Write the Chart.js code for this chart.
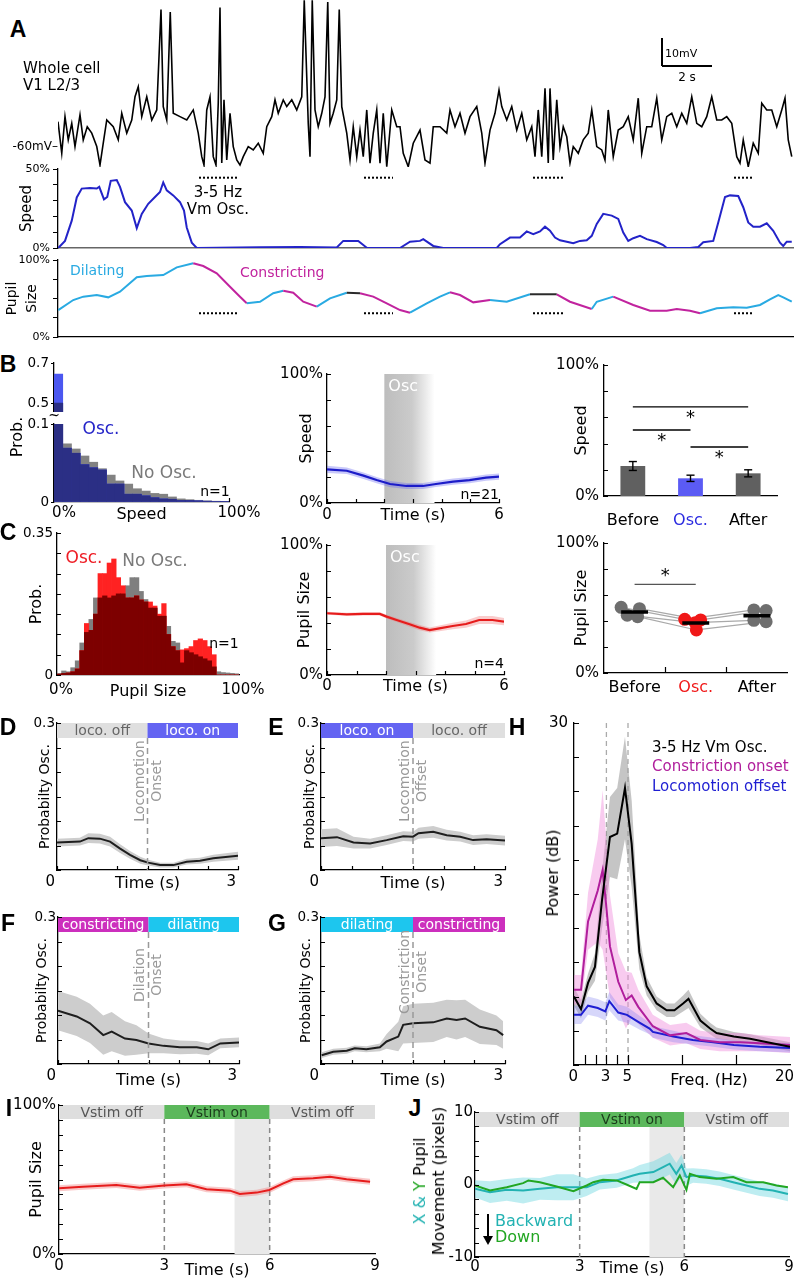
<!DOCTYPE html>
<html>
<head>
<meta charset="utf-8">
<title>Vm oscillations, locomotion and pupil</title>
<script src="https://cdn.jsdelivr.net/npm/chart.js@4.4.0/dist/chart.umd.min.js"></script>
<style>
  html, body { margin: 0; padding: 0; background: #fff; }
  #fig { position: relative; width: 794px; height: 1280px; overflow: hidden; font-family: 'DejaVu Sans', sans-serif; color: #000; }
  #fig canvas { position: absolute; }
  .t { position: absolute; white-space: nowrap; line-height: 1; text-align: center; }
</style>
</head>
<body>
<div id="fig"></div>
<script>
// ============================================================
//  data
// ============================================================

// A: whole-cell Vm (s, mV)
const vmT = [0.00,0.15,0.28,0.41,0.55,0.68,0.88,1.01,1.17,1.35,1.55,1.68,1.81,1.95,2.21,2.41,2.55,2.75,2.95,3.08,
  3.21,3.35,3.55,3.75,3.95,4.12,4.21,4.35,4.49,4.61,4.88,5.15,5.41,5.61,5.75,5.84,5.95,6.08,6.21,6.32,
  6.41,6.48,6.55,6.64,6.75,6.88,7.01,7.15,7.28,7.41,7.61,7.81,8.01,8.21,8.35,8.55,8.68,8.81,9.01,9.15,
  9.35,9.55,9.75,9.85,10.01,10.08,10.17,10.28,10.41,10.55,10.68,10.79,10.88,11.01,11.15,11.25,11.35,11.55,11.68,11.81,
  11.95,12.08,12.21,12.35,12.48,12.61,12.75,12.88,13.01,13.15,13.35,13.55,13.68,13.81,14.01,14.21,14.48,14.68,14.88,15.01,
  15.28,15.55,15.68,15.88,16.08,16.28,16.48,16.75,16.95,17.08,17.28,17.48,17.64,17.75,17.95,18.15,18.35,18.55,18.75,18.95,
  19.08,19.21,19.35,19.48,19.61,19.68,19.81,19.95,20.08,20.21,20.35,20.48,20.61,20.81,21.01,21.21,21.35,21.55,21.75,21.88,
  22.01,22.21,22.41,22.61,22.81,23.01,23.21,23.35,23.55,23.75,23.95,24.15,24.35,24.55,24.75,24.95,25.15,25.35,25.55,25.75,
  25.95,26.15,26.35,26.55,26.75,26.95,27.15,27.28,27.41,27.61,27.81,28.01,28.15,28.35,28.55,28.75,28.95,29.08,29.21,29.35];
const vmV = [-52.4,-63.7,-50.6,-58.9,-53.0,-61.3,-50.0,-58.9,-54.2,-56.5,-61.3,-67.9,-60.1,-51.8,-54.2,-58.9,-49.4,-56.5,-51.8,-43.5,
  -39.9,-50.6,-43.5,-51.8,-48.2,-12.3,-47.0,-51.8,-13.2,-49.4,-50.6,-51.8,-48.2,-56.5,-64.9,-67.9,-48.2,-43.5,-64.9,-67.9,
  -45.8,-11.6,-67.2,-44.6,-66.1,-49.4,-61.3,-66.1,-67.9,-64.9,-61.3,-62.5,-60.1,-63.7,-54.2,-50.6,-44.6,-49.4,-44.6,-47.0,
  -44.6,-48.2,-43.5,-9.0,-53.0,-64.9,-9.0,-48.2,-54.2,-49.4,-43.5,-9.6,-53.0,-49.4,-44.6,-12.3,-47.0,-56.5,-66.1,-54.2,
  -64.9,-55.4,-64.9,-48.2,-67.2,-56.5,-48.2,-67.2,-49.4,-68.5,-48.2,-54.2,-54.2,-63.7,-68.5,-60.1,-55.4,-66.1,-67.2,-54.2,
  -54.2,-56.5,-48.2,-54.2,-49.4,-56.5,-50.6,-47.0,-56.5,-67.2,-55.4,-49.4,-41.1,-47.0,-51.8,-47.0,-55.4,-49.4,-58.9,-54.2,
  -64.9,-48.2,-64.9,-40.5,-67.2,-40.5,-66.1,-44.6,-61.3,-54.2,-57.8,-67.2,-61.3,-63.7,-58.9,-56.5,-48.2,-61.3,-62.5,-66.1,
  -48.2,-64.9,-55.4,-54.2,-50.6,-58.9,-44.0,-63.7,-54.2,-54.2,-44.0,-58.9,-50.6,-49.4,-54.2,-49.4,-53.0,-43.5,-53.0,-54.2,
  -50.6,-43.5,-51.8,-51.8,-50.6,-53.0,-64.9,-67.2,-58.9,-68.5,-60.1,-63.7,-45.8,-48.2,-48.2,-54.2,-48.2,-44.0,-58.9,-64.9];

// A: running speed (%)
const runT = [0.01,0.28,0.55,0.75,0.95,1.28,1.55,1.65,1.84,1.97,2.11,2.35,2.48,2.68,2.95,3.15,3.35,3.61,3.88,4.08,
  4.21,4.35,4.61,4.88,5.04,5.15,5.35,5.55,8.08,9.68,11.15,11.41,12.01,12.35,13.68,14.08,14.48,14.61,15.01,15.41,
  17.55,17.68,18.08,18.48,18.75,19.01,19.28,19.48,19.68,19.88,20.08,20.35,20.61,20.88,21.15,21.35,21.55,21.81,22.15,22.41,
  22.61,22.81,23.01,23.28,23.55,23.95,24.21,24.35,25.28,25.61,25.81,26.21,26.41,26.68,26.88,27.21,27.41,27.61,27.81,28.08,
  28.35,28.61,28.88,29.01,29.15,29.35];
const runV = [0,4.5,17.3,32,37.6,38,37.6,38.7,30.8,32.3,42.5,43,38.7,29,23.7,12.6,21.6,28,32.3,35.4,
  41.5,36.5,33.3,29,23.7,13,3.4,0,0.4,0.6,0.3,4.5,4.5,0.2,0,4,4.5,5.6,1.3,0,
  0,2.4,6.6,6.6,10.5,8.8,10.5,13.5,10.9,6.6,4.9,4,3,4.5,4.9,7.7,15.2,21.6,20.5,18.4,
  9.8,4.5,6.2,7.7,5.6,3.8,1.9,0,0,0.6,3.6,4.5,16.2,32.3,33.3,32.9,25.8,16.2,13.5,13.5,
  15.6,10.9,3.4,1.3,4,4];

// A: pupil size (%) and its dilating / constricting phases
const pupT = [0.01,0.61,1.01,1.55,2.01,2.48,3.15,3.55,4.21,4.75,5.41,5.81,6.35,6.88,7.28,7.55,8.08,8.61,9.01,9.41,
  9.81,10.35,10.88,11.55,12.08,12.61,13.15,13.68,14.08,14.75,15.28,15.68,16.08,16.61,17.28,17.95,18.88,19.95,20.48,21.35,
  21.55,22.21,23.01,23.68,24.35,24.75,25.28,25.68,26.35,27.01,27.55,28.08,28.48,28.81,29.01,29.35];
const pupV = [35,48,52.4,54.5,51.5,58.9,77.5,79.2,80.5,90.5,95.7,92.2,82.7,65.3,52.3,43.8,45.8,56.8,60.1,57.5,
  45.8,39.4,50.2,57.5,56.8,52.4,43.8,35,31.6,43.8,52.4,58,54.5,45,48,45.8,55.5,55.5,45.8,36.4,
  45.8,52.4,41.6,34.2,34.2,36.4,34.2,30.8,37.3,38.5,38.1,41.6,49,54.5,51.5,45.8];
const pupSwitchT = [5.41,7.55,9.01,10.35,11.55,12.08,14.08,15.68,17.28,18.88,19.95,21.35,22.21,25.68];
const pupPhase   = ['dil','con','dil','con','dil','flat','con','dil','con','dil','flat','con','dil','con','dil'];
const oscWinStart = [5.64, 12.24, 19.0, 27.04];
const oscWinEnd   = [7.24, 13.4, 20.2, 27.84];

// B: speed histograms (bin centres, %)
const speedBins = [2.5,7.5,12.5,17.5,22.5,27.5,32.5,37.5,42.5,47.5,52.5,57.5,62.5,67.5,72.5,77.5,82.5,87.5,92.5,97.5];
const speedNoOsc = [0.50,0.0746,0.068,0.059,0.051,0.0427,0.0345,0.027,0.023,0.017,0.014,0.011,0.010,0.0065,0.004,0.003,0.0022,0.0015,0.001,0.0008];
const speedOsc   = [0.645,0.069,0.0625,0.048,0.044,0.041,0.023,0.023,0.010,0.010,0.008,0.0056,0.004,0.0035,0.002,0.002,0.0015,0.001,0.0007,0.0005];

// B: speed around oscillation onset (n=21)
const bT   = [0,0.69,1.27,1.73,2.2,2.77,3.35,3.8,4.4,4.97,5.55,6];
const bV   = [26.1,25.0,21.2,17.8,14.7,13.2,13.2,14.7,16.5,17.8,19.6,20.4];
const bSem = [2.8,2.6,2.5,2.4,2.4,2.3,2.3,2.3,2.4,2.4,2.4,2.4];

// B: speed before / during / after
const condLabels = ['Before','Osc.','After'];
const speedBar = [22.9,13.5,17.3];
const speedErr = [3.4,2.4,2.7];
const sigFrom = [0,0,1];
const sigTo   = [2,1,2];
const sigY    = [68,50.4,37.4];

// C: pupil histograms
const pupBins = [1.25,3.75,6.25,8.75,11.25,13.75,16.25,18.75,21.25,23.75,26.25,28.75,31.25,33.75,36.25,38.75,41.25,43.75,46.25,48.75,
  51.25,53.75,56.25,58.75,61.25,63.75,66.25,68.75,71.25,73.75,76.25,78.75,81.25,83.75,86.25,88.75,91.25,93.75,96.25,98.75];
const pupNoOsc = [0.004,0.010,0.008,0.018,0.035,0.079,0.105,0.137,0.190,0.190,0.195,0.190,0.195,0.200,0.200,0.220,0.240,0.240,0.206,0.186,
  0.165,0.165,0.145,0.145,0.120,0.083,0.079,0.030,0.060,0.055,0.050,0.045,0.040,0.035,0.020,0.008,0.006,0.005,0.004,0.003];
const pupOsc   = [0.002,0.004,0.005,0.008,0.015,0.060,0.127,0.110,0.150,0.250,0.250,0.276,0.286,0.240,0.220,0.190,0.190,0.195,0.185,0.180,
  0.180,0.170,0.150,0.176,0.100,0.070,0.060,0.062,0.065,0.070,0.085,0.089,0.085,0.070,0.050,0,0,0,0,0];

// C: pupil around oscillation onset (n=4)
const cT   = [0,0.67,1.23,1.79,2.02,2.36,2.8,3.14,3.48,3.81,4.26,4.71,5.16,5.61,6];
const cV   = [47.5,46.7,47.0,47.0,44.9,42.3,39.0,36.4,34.6,35.9,37.7,39.2,42.3,42.3,41.0];
const cSem = [1.2,1.2,1.2,1.3,1.5,1.6,1.8,2.0,2.0,2.2,2.5,2.8,3.0,3.0,2.8];

// C: pupil per mouse, before / osc / after
const pupBefore = [50.5,49.5,44.5,43.3];
const pupDuring = [41.3,40.8,38.7,33.1];
const pupAfter  = [48.5,48.0,40.5,39.5];
const jitBefore = [-0.22,0.08,-0.12,0.05];
const jitDuring = [-0.18,0.08,-0.01,0.01];
const jitAfter  = [-0.05,0.15,-0.05,0.15];
const pupSigY = 68.2;

// D-G: probability of oscillation around state transitions
const probSplit = 1.5;
const dT = [0,0.38,0.52,0.71,0.88,1.04,1.21,1.38,1.51,1.71,1.93,2.15,2.37,2.59,3.0];
const dV = [0.056,0.058,0.065,0.064,0.058,0.044,0.031,0.020,0.015,0.010,0.010,0.017,0.019,0.024,0.029];
const dSem = [0.008,0.008,0.010,0.010,0.010,0.009,0.008,0.007,0.006,0.005,0.005,0.006,0.006,0.007,0.008];
const eT = [0,0.26,0.53,0.80,1.07,1.34,1.50,1.59,1.83,2.05,2.27,2.48,2.70,3.0];
const eV = [0.065,0.067,0.056,0.054,0.061,0.069,0.068,0.075,0.078,0.071,0.068,0.061,0.063,0.060];
const eSem = [0.018,0.018,0.012,0.010,0.010,0.010,0.010,0.011,0.012,0.011,0.010,0.010,0.010,0.010];
const fT = [0,0.31,0.53,0.75,0.89,1.11,1.30,1.50,1.75,2.02,2.30,2.49,2.69,3.0];
const fV = [0.109,0.097,0.083,0.059,0.066,0.052,0.049,0.042,0.037,0.034,0.034,0.030,0.042,0.044];
const fSem = [0.040,0.040,0.040,0.040,0.040,0.035,0.030,0.020,0.015,0.014,0.013,0.012,0.010,0.010];
const gT = [0.01,0.20,0.42,0.55,0.74,0.96,1.07,1.26,1.34,1.50,1.83,2.05,2.21,2.35,2.59,2.86,2.97];
const gV = [0.018,0.025,0.027,0.032,0.030,0.034,0.046,0.056,0.080,0.083,0.085,0.093,0.090,0.093,0.076,0.069,0.059];
const gSem = [0.006,0.006,0.006,0.006,0.006,0.008,0.015,0.030,0.038,0.040,0.040,0.038,0.040,0.038,0.035,0.030,0.028];
const dPhases = ['loco. off','loco. on'];
const ePhases = ['loco. on','loco. off'];
const fPhases = ['constricting','dilating'];
const gPhases = ['dilating','constricting'];

// H: power spectra (Hz, dB)
const oscF = [0,0.65,1.3,1.94,2.6,3.33,4.0,4.72,5.34,6.05,6.73,7.65,8.58,9.3,10.1,10.6,11.7,12.6,13.2,14.8,16.3,17.9,20];
const oscDb = [6.0,4.9,7.2,8.6,14.5,20.0,20.3,24.3,19.4,9.9,6.9,5.4,4.8,4.8,5.4,5.8,3.9,3.2,2.8,2.5,2.3,2.0,1.6];
const oscSem = [0.8,0.8,0.8,1.2,2.5,3.5,4.0,4.5,3.8,1.5,0.8,0.6,0.6,0.6,0.7,0.8,0.6,0.5,0.5,0.4,0.4,0.4,0.4];
const conF = [0,0.65,1.3,2.2,2.65,2.96,3.33,4.1,4.8,5.34,5.95,7.3,8.9,10.4,11.7,13.5,15.4,17.2,20];
const conDb = [6.6,6.6,12.6,15.3,17.1,14.2,10.4,7.3,5.7,6.1,5.1,3.4,2.6,2.8,2.2,2.0,2.0,1.9,1.75];
const conSem = [1.3,1.3,2.5,4.5,7.0,6.0,4.5,2.5,2.5,2.0,1.5,1.0,0.9,0.9,0.8,0.8,0.8,0.7,0.7];
const locF = [0,0.65,1.3,2.2,2.9,3.27,4.1,4.9,6.1,7.0,7.3,9.2,11,12.9,14.8,17.2,20];
const locDb = [4.4,4.4,5.2,5.0,4.7,5.6,4.6,4.4,3.7,3.2,2.9,2.5,2.2,2.0,1.75,1.6,1.5];
const locSem = [0.8,0.8,0.8,0.8,0.8,0.8,0.7,0.7,0.6,0.5,0.5,0.5,0.4,0.4,0.4,0.4,0.4];
const bandFreqs = [3, 5];

// I, J: visual stimulation
const vstimT = [0, 3, 6, 9];
const vstimText = ['Vstim off','Vstim on','Vstim off'];
const iT = [0,0.68,1.63,2.30,3.0,3.63,4.2,4.87,5.15,5.63,5.99,6.39,6.67,7.24,7.72,8.19,8.86];
const iV = [44.1,45.2,46.3,44.5,45.9,46.8,43.4,42.5,40.3,41.2,43.0,47.4,50.1,50.8,51.9,50.1,48.5];
const iSem = [2,2,2,2,2,2,2,2,2,2,2,2,2,2,2,2,2];
const jxT = [0,0.43,0.91,1.38,1.86,2.34,2.82,3.2,3.58,4.06,4.53,4.72,5.11,5.39,5.58,5.77,5.92,6.06,6.25,6.63,7.01,7.4,7.78,8.16,8.54,8.97];
const jxV = [-0.6,-1.06,-0.74,-0.83,-0.6,-0.37,-0.37,-0.37,0.32,0.56,1.25,1.48,1.71,2.41,2.87,1.48,2.64,1.02,1.25,1.11,0.79,0.32,-0.14,-0.6,-0.83,-1.3];
const jxSem = [1.2,1.5,1.5,1.8,1.5,1.8,1.8,1.2,1.0,1.0,1.0,1.2,1.5,1.5,1.5,1.5,1.5,1.2,1.0,1.0,1.0,1.0,1.0,1.0,1.0,1.0];
const jyT = [0,0.43,0.91,1.38,1.53,1.86,2.34,2.82,3.2,3.39,3.67,4.06,4.34,4.63,4.72,5.11,5.39,5.68,5.87,6.06,6.16,6.44,6.92,7.4,7.78,8.26,8.64,8.97];
const jyV = [-0.14,-0.83,-0.37,0.19,0.56,0.32,-0.28,-0.93,-0.14,0.32,0.65,0.56,0,-0.6,0.32,0.32,0.93,-0.37,1.25,-0.74,1.48,1.02,0.79,1.02,0.32,0.32,-0.14,-0.37];
const shadeT = [5, 6];

// ============================================================
//  styling
// ============================================================
const CYAN = '#29aae2', MAG = '#c1239e', BLUE = '#2323c8', RED = '#e61c1c';
const TEAL = '#22b2b2', GREEN = '#22a622';
const phaseColor = { dil: CYAN, con: MAG, flat: '#2a2a2a' };
const barBg = { 'loco. off': '#dfdfdf', 'loco. on': '#6464f2', constricting: '#cc2fbd', dilating: '#1dc6ee', 'Vstim off': '#dedede', 'Vstim on': '#5cb85c' };
const barFg = { 'loco. off': '#666', 'loco. on': '#fff', constricting: '#fff', dilating: '#fff', 'Vstim off': '#555', 'Vstim on': '#1b3b1b' };
const FONT = "'DejaVu Sans', sans-serif";

Chart.defaults.font.family = FONT;
Chart.defaults.font.size = 15;
Chart.defaults.color = '#000';

const fig = document.getElementById('fig');
const xy = (xs, ys) => xs.map((x, i) => ({ x, y: ys[i] }));
const lab = m => v => { for (const k in m) if (Math.abs(v - k) < 1e-6) return m[k]; return ''; };

// inward tick marks
const inTicks = {
  id: 'inTicks',
  afterDraw(chart, args, o) {
    const ctx = chart.ctx, a = chart.chartArea;
    ctx.save();
    ctx.strokeStyle = '#000';
    ctx.lineWidth = 1.2;
    for (const k of ['x', 'y']) {
      const c = o[k], s = chart.scales[k];
      if (!c || !s) continue;
      const vals = c.at ? Array.from(c.at) : s.ticks.map(t => t.value);
      ctx.beginPath();
      for (const v of vals) {
        const p = Math.round(s.getPixelForValue(v)) + 0.5;
        if (k === 'x') { ctx.moveTo(p, a.bottom); ctx.lineTo(p, a.bottom - c.len); }
        else { ctx.moveTo(a.left, p); ctx.lineTo(a.left + c.len, p); }
      }
      ctx.stroke();
    }
    ctx.restore();
  }
};

// shaded boxes, dashed lines, labels placed in data coordinates
function paint(chart, items) {
  const ctx = chart.ctx, ca = chart.chartArea;
  const X = v => chart.scales.x.getPixelForValue(v);
  const Y = v => chart.scales.y.getPixelForValue(v);
  const py = (v, off, dflt) => v !== undefined ? Y(v) : (off !== undefined ? ca.top + off : dflt);
  for (const it of items) {
    ctx.save();
    if (it.type === 'rect') {
      const x0 = X(it.x0), x1 = X(it.x1), y0 = py(it.y0, it.top, ca.top), y1 = py(it.y1, it.bot, ca.bottom);
      if (it.grad) {
        const g = ctx.createLinearGradient(x0, 0, x1, 0);
        for (const st of it.grad) g.addColorStop(st[0], st[1]);
        ctx.fillStyle = g;
      } else ctx.fillStyle = it.fill;
      ctx.fillRect(x0, y0, x1 - x0, y1 - y0);
      if (it.text) {
        ctx.fillStyle = it.tc; ctx.font = it.font || ('14px ' + FONT);
        ctx.textAlign = 'center'; ctx.textBaseline = 'middle';
        ctx.fillText(it.text, (x0 + x1) / 2, (y0 + y1) / 2 + 1);
      }
    } else if (it.type === 'seg') {
      ctx.strokeStyle = it.color || '#000'; ctx.lineWidth = it.w || 1.3;
      ctx.setLineDash(it.dash ? Array.from(it.dash) : []);
      const x0 = X(it.x0), x1 = X(it.x1 !== undefined ? it.x1 : it.x0);
      ctx.beginPath();
      ctx.moveTo(x0, py(it.y0, it.top, ca.top));
      ctx.lineTo(x1, py(it.y1, it.bot, ca.bottom));
      ctx.stroke();
    } else if (it.type === 'text') {
      ctx.fillStyle = it.color || '#000'; ctx.font = it.font || ('15px ' + FONT);
      ctx.textAlign = it.align || 'center'; ctx.textBaseline = 'middle';
      ctx.fillText(it.text, X(it.x) + (it.dx || 0), py(it.y, it.top, ca.top) + (it.dy || 0));
    }
    ctx.restore();
  }
}
const deco = {
  id: 'deco',
  beforeDatasetsDraw(chart, a, o) { paint(chart, o.before || []); },
  afterDatasetsDraw(chart, a, o) { paint(chart, o.after || []); }
};

function axis(min, max, o) {
  o = o || {};
  const s = {
    type: 'linear', min, max, offset: false,
    grid: { display: !!o.out, drawOnChartArea: false, drawTicks: !!o.out, tickLength: o.out || 0, color: '#000', offset: false },
    border: { display: o.border !== false, color: o.bc || '#000', width: o.bw || 1.3 },
    ticks: { display: o.labels !== false, padding: o.pad !== undefined ? o.pad : 3, autoSkip: false, maxRotation: 0,
             color: o.tc || '#000', font: { size: o.fs || 15 }, labelOffset: o.lo || 0, align: o.align || 'center',
             callback: o.cb || (() => '') }
  };
  if (o.step) s.ticks.stepSize = o.step;
  if (o.at) s.afterBuildTicks = sc => { sc.ticks = o.at.map(v => ({ value: v })); };
  if (o.title) s.title = { display: true, text: o.title, padding: 0, font: { size: o.tfs || 16, lineHeight: o.tlh || 1.2 } };
  if (o.display === false) s.display = false;
  return s;
}

// canvas placed so that the plot area lands on r.x, r.y, r.w, r.h
// r.tx: wanted centre x of the y-axis title
function mk(r, cfg) {
  const pl = r.pl || 0, pt = r.pt || 0, pr = r.pr || 0, pb = r.pb || 0;
  const W = Math.round(pl + r.yw + r.w + pr), H = Math.round(pt + r.h + r.xh + pb);
  const cv = document.createElement('canvas');
  cv.width = W; cv.height = H;
  Object.assign(cv.style, { left: (r.x - r.yw - pl) + 'px', top: (r.y - pt) + 'px', width: W + 'px', height: H + 'px' });
  fig.appendChild(cv);
  const o = cfg.options;
  o.responsive = false; o.animation = false; o.events = [];
  o.layout = { padding: { left: pl, top: pt, right: pr, bottom: pb } };
  o.plugins = Object.assign({ legend: { display: false }, tooltip: { enabled: false } }, o.plugins || {});
  const ty = o.scales.y.title;
  if (ty && r.tx !== undefined) {
    const lh = ty.font.size * ty.font.lineHeight;
    ty.padding = { top: r.tx - (r.x - r.yw) - lh / 2, bottom: 0 };
  }
  o.scales.x.afterFit = s => { s.height = r.xh; s.paddingLeft = 0; s.paddingRight = 0; };
  o.scales.y.afterFit = s => { s.width = r.yw; s.paddingTop = 0; s.paddingBottom = 0; };
  cfg.plugins = [inTicks, deco];
  return new Chart(cv, cfg);
}

// mean line + shaded sem
function band(xs, m, e, lc, fc, lw, lo, bo) {
  return [
    { data: xy(xs, m), borderColor: lc, borderWidth: lw || 2, pointRadius: 0, order: lo || 0 },
    { data: xs.map((x, i) => ({ x, y: m[i] + e[i] })), borderWidth: 0, pointRadius: 0, fill: '+1', backgroundColor: fc, order: bo || 5 },
    { data: xs.map((x, i) => ({ x, y: m[i] - e[i] })), borderWidth: 0, pointRadius: 0, fill: false, order: bo || 5 }
  ];
}

function histSets(xs, a, b, ca, cb, cmin) {
  const base = { barPercentage: 1, categoryPercentage: 1, borderWidth: 0, grouped: false };
  return [
    Object.assign({ data: xy(xs, xs.map((_, i) => Math.min(a[i], b[i]))), backgroundColor: cmin, order: 0 }, base),
    Object.assign({ data: xy(xs, a), backgroundColor: ca, order: 1 }, base),
    Object.assign({ data: xy(xs, b), backgroundColor: cb, order: 2 }, base)
  ];
}

function phaseBar(t0, t1, label, h) {
  return { type: 'rect', x0: t0, x1: t1, top: 0, bot: h, fill: barBg[label], text: label, tc: barFg[label] };
}

// ============================================================
//  A
// ============================================================
const tEnd = 29.44;
mk({ x: 58, y: 0, w: 736, h: 167, yw: 0, xh: 0, pt: 2 }, {
  type: 'line',
  data: { datasets: [{ data: xy(vmT, vmV), borderColor: '#000', borderWidth: 1.6, pointRadius: 0 }] },
  options: {
    scales: { x: axis(0, tEnd, { display: false }), y: axis(-68.6, -8.9, { display: false }) },
    plugins: { deco: { after: [
      { type: 'seg', x0: 24.16, y0: -22.5, y1: -32.5, w: 2 },
      { type: 'seg', x0: 24.16, x1: 26.16, y0: -32.5, y1: -32.5, w: 2 }
    ] } }
  }
});

mk({ x: 58, y: 169, w: 736, h: 78.5, yw: 40, xh: 0, pl: 18, pt: 8, pb: 4 }, {
  type: 'line',
  data: { datasets: [{ data: xy(runT, runV), borderColor: BLUE, borderWidth: 2, pointRadius: 0 }] },
  options: {
    scales: {
      x: axis(0, tEnd, { labels: false, bc: '#666', bw: 1.6 }),
      y: axis(0, 50, { out: 5, step: 10, fs: 11, pad: 3, cb: lab({ 50: '50%', 0: '0%' }), title: 'Speed', tfs: 15 })
    },
    plugins: { deco: { after: oscWinStart.map((s, i) => ({ type: 'seg', x0: s, x1: oscWinEnd[i], y0: 44.5, y1: 44.5, dash: [2, 2], w: 2 })) } }
  }
});

mk({ x: 58, y: 260, w: 736, h: 77, yw: 56, xh: 0, pl: 2, pt: 8, pb: 6 }, {
  type: 'line',
  data: { datasets: [{
    data: xy(pupT, pupV), borderWidth: 2, pointRadius: 0, borderColor: CYAN,
    segment: { borderColor: c => { const t = c.p0.parsed.x; let k = 0; while (k < pupSwitchT.length && t >= pupSwitchT[k] - 1e-6) k++; return phaseColor[pupPhase[k]]; } }
  }] },
  options: {
    scales: {
      x: axis(0, tEnd, { labels: false }),
      y: axis(0, 100, { out: 5, step: 25, fs: 11, pad: 3, cb: lab({ 100: '100%', 0: '0%' }), title: ['Pupil', 'Size'], tfs: 14, tlh: 1.45 })
    },
    plugins: { deco: { after: oscWinStart.map((s, i) => ({ type: 'seg', x0: s, x1: oscWinEnd[i], y0: 31, y1: 31, dash: [2, 2], w: 2 })) } }
  }
});

// ============================================================
//  B
// ============================================================
const speedHist = () => histSets(speedBins, speedOsc, speedNoOsc, '#4b57f0', '#828282', '#2b2f85');
mk({ x: 54, y: 363, w: 175, h: 49, yw: 30, xh: 0, pt: 8, pr: 30 }, {
  type: 'bar',
  data: { datasets: speedHist() },
  options: {
    scales: {
      x: axis(0, 100, { border: false, labels: false }),
      y: axis(0.455, 0.7, { at: [0.5, 0.7], out: 3, fs: 13.5, pad: 2, cb: lab({ 0.5: '0.5', 0.7: '0.7' }) })
    }
  }
});
mk({ x: 54, y: 424, w: 175, h: 78, yw: 30, xh: 22, pt: 8, pr: 34, pb: 2 }, {
  type: 'bar',
  data: { datasets: speedHist() },
  options: {
    scales: {
      x: axis(0, 100, { at: [0, 100], pad: 2, lo: 10, cb: lab({ 0: '0%', 100: '100%' }), title: 'Speed' }),
      y: axis(0, 0.1, { at: [0, 0.1], out: 3, fs: 13.5, pad: 2, cb: lab({ 0: '0', 0.1: '0.1' }) })
    },
    plugins: { inTicks: { x: { len: 4, at: [100] } } }
  }
});

mk({ x: 327, y: 374, w: 172, h: 129, yw: 50, tx: 307, xh: 22, pt: 10, pr: 14, pb: 2 }, {
  type: 'line',
  data: { datasets: band(bT, bV, bSem, '#1c1cc8', 'rgba(100,100,240,0.35)', 2.2) },
  options: {
    scales: {
      x: axis(0, 6, { step: 1, pad: 3, cb: lab({ 0: '0', 6: '6' }), title: 'Time (s)' }),
      y: axis(0, 100, { step: 20, pad: 4, cb: lab({ 100: '100%', 0: '0%' }), title: 'Speed' })
    },
    plugins: {
      inTicks: { x: { len: 4 }, y: { len: 4 } },
      deco: {
        before: [
          { type: 'rect', x0: 2, x1: 3.75, y0: 100, y1: 0, grad: [[0, '#bdbdbd'], [0.55, '#cbcbcb'], [1, '#ffffff']] },
          { type: 'text', x: 2, y: 90, dx: 4, text: 'Osc', color: '#fff', align: 'left', font: '16px ' + FONT }
        ],
        after: [{ type: 'text', x: 6, y: 6, text: 'n=21', align: 'right', font: '14px ' + FONT }]
      }
    }
  }
});

const errItems = speedBar.map((v, i) => [
  { type: 'seg', x0: i, y0: v - speedErr[i], y1: v + speedErr[i], w: 1.4 },
  { type: 'seg', x0: i - 0.07, x1: i + 0.07, y0: v + speedErr[i], y1: v + speedErr[i], w: 1.4 },
  { type: 'seg', x0: i - 0.07, x1: i + 0.07, y0: v - speedErr[i], y1: v - speedErr[i], w: 1.4 }
]).flat();
const sigItems = sigFrom.map((a, i) => [
  { type: 'seg', x0: a, x1: sigTo[i], y0: sigY[i], y1: sigY[i], w: 1.3 },
  { type: 'text', x: (a + sigTo[i]) / 2, y: sigY[i], dy: 11, text: '*', font: '18px ' + FONT }
]).flat();
mk({ x: 604, y: 365, w: 173, h: 131, yw: 50, tx: 582, xh: 30, pt: 10, pr: 12, pb: 2 }, {
  type: 'bar',
  data: { labels: condLabels, datasets: [{ data: speedBar, backgroundColor: ['#606060', '#5b5bf4', '#606060'], barPercentage: 0.43, categoryPercentage: 1 }] },
  options: {
    scales: {
      x: { type: 'category', offset: true, grid: { display: false }, border: { color: '#000', width: 1.3 },
           ticks: { color: c => ['#000', '#2a2ae0', '#000'][c.index], font: { size: 16 }, padding: 7, maxRotation: 0 } },
      y: axis(0, 100, { step: 20, pad: 5, cb: lab({ 100: '100%', 0: '0%' }), title: 'Speed' })
    },
    plugins: { inTicks: { y: { len: 4 } }, deco: { after: errItems.concat(sigItems) } }
  }
});

// ============================================================
//  C
// ============================================================
mk({ x: 57, y: 533, w: 182, h: 142, yw: 50, tx: 37, xh: 26, pt: 10, pr: 26, pb: 2 }, {
  type: 'bar',
  data: { datasets: histSets(pupBins, pupOsc, pupNoOsc, '#ff2222', '#7f7f7f', '#7d0000') },
  options: {
    scales: {
      x: axis(0, 100, { at: [0, 100], pad: 6, lo: 4, cb: lab({ 0: '0%', 100: '100%' }), title: 'Pupil Size' }),
      y: axis(0, 0.35, { step: 0.05, fs: 13.5, pad: 4, cb: lab({ 0.35: '0.35', 0: '0' }), title: 'Prob.' })
    },
    plugins: { inTicks: { y: { len: 4 } } }
  }
});

mk({ x: 327, y: 545, w: 177, h: 130, yw: 50, tx: 305, xh: 21, pt: 10, pr: 14, pb: 2 }, {
  type: 'line',
  data: { datasets: band(cT, cV, cSem, RED, 'rgba(240,110,110,0.35)', 2.2) },
  options: {
    scales: {
      x: axis(0, 6, { step: 1, pad: 2, cb: lab({ 0: '0', 6: '6' }), title: 'Time (s)' }),
      y: axis(0, 100, { step: 20, pad: 4, cb: lab({ 100: '100%', 0: '0%' }), title: 'Pupil Size' })
    },
    plugins: {
      inTicks: { x: { len: 4 }, y: { len: 4 } },
      deco: {
        before: [
          { type: 'rect', x0: 2, x1: 3.7, y0: 100, y1: 0, grad: [[0, '#bdbdbd'], [0.55, '#cbcbcb'], [1, '#ffffff']] },
          { type: 'text', x: 2, y: 90, dx: 4, text: 'Osc', color: '#fff', align: 'left', font: '16px ' + FONT }
        ],
        after: [{ type: 'text', x: 6, y: 8, text: 'n=4', align: 'right', font: '14px ' + FONT }]
      }
    }
  }
});

const mean = a => a.reduce((s, v) => s + v, 0) / a.length;
const cGroups = [pupBefore, pupDuring, pupAfter];
const cJit = [jitBefore, jitDuring, jitAfter];
const cDots = ['#6e6e6e', '#f01818', '#6e6e6e'];
const cSets = [];
pupBefore.forEach((_, s) => cSets.push({
  data: cGroups.map((g, k) => ({ x: k + cJit[k][s], y: g[s] })),
  borderColor: '#a9a9a9', borderWidth: 1.2, pointRadius: 0, order: 3
}));
cGroups.forEach((g, k) => cSets.push({
  data: g.map((v, s) => ({ x: k + cJit[k][s], y: v })), showLine: false,
  pointRadius: 6.5, pointBackgroundColor: cDots[k], pointBorderWidth: 0, order: 2
}));
cGroups.forEach((g, k) => cSets.push({
  data: [{ x: k - 0.22, y: mean(g) }, { x: k + 0.22, y: mean(g) }],
  borderColor: '#000', borderWidth: 3.5, pointRadius: 0, order: 0
}));
mk({ x: 604, y: 543, w: 184, h: 130, yw: 50, tx: 582, xh: 30, pt: 10, pr: 6, pb: 2 }, {
  type: 'line',
  data: { datasets: cSets },
  options: {
    scales: {
      x: axis(-0.5, 2.5, { at: [0, 1, 2], fs: 16, pad: 5, cb: lab({ 0: 'Before', 1: 'Osc.', 2: 'After' }), tc: c => ['#000', '#f01818', '#000'][c.index] }),
      y: axis(0, 100, { step: 20, pad: 5, cb: lab({ 100: '100%', 0: '0%' }), title: 'Pupil Size' })
    },
    plugins: {
      inTicks: { x: { len: 6, at: [0.5, 1.5] }, y: { len: 4 } },
      deco: { after: [
        { type: 'seg', x0: 0, x1: 1, y0: pupSigY, y1: pupSigY, color: '#555', w: 1.3 },
        { type: 'text', x: 0.5, y: pupSigY, dy: -8, text: '*', font: '18px ' + FONT }
      ] }
    }
  }
});

// ============================================================
//  D-G
// ============================================================
function probPanel(r, t, m, e, phases) {
  mk(r, {
    type: 'line',
    data: { datasets: band(t, m, e, '#1e1e1e', '#cdcdcd', 2) },
    options: {
      scales: {
        x: axis(0, 3, { step: 0.5, align: 'end', lo: -2, pad: 3, cb: lab({ 0: '0', 3: '3' }), title: 'Time (s)' }),
        y: axis(0, 0.3, { step: 0.05, fs: 13.5, pad: 2, cb: lab({ 0.3: '0.3' }), title: 'Probabilty Osc.', tfs: 14 })
      },
      plugins: {
        inTicks: { x: { len: 4 }, y: { len: 4 } },
        deco: { after: [
          phaseBar(0, probSplit, phases[0], 15),
          phaseBar(probSplit, 3, phases[1], 15),
          { type: 'seg', x0: probSplit, top: 15, color: '#999', dash: [6, 4], w: 1.5 }
        ] }
      }
    }
  });
}
probPanel({ x: 57, y: 723, w: 181, h: 147, yw: 50, tx: 45, xh: 23, pt: 10, pr: 14, pb: 2 }, dT, dV, dSem, dPhases);
probPanel({ x: 321, y: 723, w: 184, h: 147, yw: 50, tx: 310, xh: 23, pt: 10, pr: 14, pb: 2 }, eT, eV, eSem, ePhases);
probPanel({ x: 58, y: 917, w: 181, h: 147, yw: 50, tx: 42, xh: 26, pt: 10, pr: 14, pb: 2 }, fT, fV, fSem, fPhases);
probPanel({ x: 321, y: 917, w: 184, h: 147, yw: 50, tx: 306, xh: 26, pt: 10, pr: 14, pb: 2 }, gT, gV, gSem, gPhases);

// ============================================================
//  H
// ============================================================
mk({ x: 574, y: 723, w: 216, h: 342, yw: 40, xh: 25, pt: 10, pr: 4, pb: 2 }, {
  type: 'line',
  data: { datasets: [].concat(
    band(oscF, oscDb, oscSem, '#000', 'rgba(150,150,150,0.55)', 2, 0, 5),
    band(conF, conDb, conSem, '#b01e9c', 'rgba(240,140,220,0.45)', 2, 1, 4),
    band(locF, locDb, locSem, '#1e1ed2', 'rgba(120,120,240,0.3)', 2, 2, 3)
  ) },
  options: {
    scales: {
      x: axis(0, 20, { at: [0, 1, 2, 3, 4, 5, 10, 15, 20], pad: 3, align: 'end', lo: 4, cb: lab({ 0: '0', 3: '3', 5: '5', 20: '20' }) }),
      y: axis(0, 30, { step: 3, pad: 6, cb: lab({ 30: '30' }) })
    },
    plugins: {
      inTicks: { x: { len: 10, at: [1, 2, 3, 4, 5, 10, 15] }, y: { len: 5 } },
      deco: { before: bandFreqs.map(f => ({ type: 'seg', x0: f, top: 0, color: '#aaa', dash: [5, 4], w: 1.3 })) }
    }
  }
});

// ============================================================
//  I, J
// ============================================================
const vstimItems = h => vstimText.map((s, i) => phaseBar(vstimT[i], vstimT[i + 1], s, h));
mk({ x: 59, y: 1105, w: 316, h: 149, yw: 50, tx: 37, xh: 26, pt: 8, pr: 12, pb: 2 }, {
  type: 'line',
  data: { datasets: band(iT, iV, iSem, RED, 'rgba(240,120,120,0.4)', 2) },
  options: {
    scales: {
      x: axis(0, 9, { step: 3, pad: 3, cb: lab({ 0: '0', 3: '3', 6: '6', 9: '9' }), title: 'Time (s)' }),
      y: axis(0, 100, { step: 10, pad: 3, cb: lab({ 100: '100%', 0: '0%' }), title: 'Pupil Size' })
    },
    plugins: {
      inTicks: { y: { len: 4 } },
      deco: {
        before: [{ type: 'rect', x0: shadeT[0], x1: shadeT[1], top: 14, fill: '#e9e9e9' }]
          .concat(vstimT.slice(1, 3).map(t => ({ type: 'seg', x0: t, top: 14, color: '#888', dash: [5, 4], w: 1.5 }))),
        after: vstimItems(14)
      }
    }
  }
});

mk({ x: 475, y: 1112, w: 314, h: 145, yw: 30, xh: 21, pt: 8, pr: 5, pb: 4 }, {
  type: 'line',
  data: { datasets: [{ data: xy(jyT, jyV), borderColor: GREEN, borderWidth: 2, pointRadius: 0, order: 0 }]
    .concat(band(jxT, jxV, jxSem, TEAL, 'rgba(110,215,225,0.45)', 2, 1, 5)) },
  options: {
    scales: {
      x: axis(0, 9, { step: 3, pad: 1, cb: lab({ 0: '0', 3: '3', 6: '6', 9: '9' }), title: 'Time (s)' }),
      y: axis(-10, 10, { step: 2, pad: 2, cb: lab({ 10: '10', 0: '0', '-10': '-10' }) })
    },
    plugins: {
      inTicks: { y: { len: 4 } },
      deco: {
        before: [{ type: 'rect', x0: shadeT[0], x1: shadeT[1], top: 15, fill: '#e9e9e9' }]
          .concat(vstimT.slice(1, 3).map(t => ({ type: 'seg', x0: t, top: 15, color: '#888', dash: [5, 4], w: 1.5 }))),
        after: vstimItems(15)
      }
    }
  }
});

// ============================================================
//  text
// ============================================================
function txt(s, x, y, o) {
  o = o || {};
  const d = document.createElement('div');
  d.className = 't';
  d.innerHTML = s;
  const st = d.style;
  st.left = x + 'px'; st.top = y + 'px';
  st.fontSize = (o.fs || 15) + 'px';
  if (o.color) st.color = o.color;
  if (o.bold) { st.fontWeight = 'bold'; st.fontFamily = "'Liberation Sans', Arial, sans-serif"; }
  if (o.lh) st.lineHeight = o.lh + 'px';
  const ax = o.align === 'left' ? '0' : o.align === 'right' ? '-100%' : '-50%';
  st.transform = 'translate(' + ax + ', -50%)' + (o.rot ? ' rotate(-90deg)' : '');
  fig.appendChild(d);
}

[['A', 18, 29], ['B', 8, 364], ['C', 8, 532], ['D', 8, 727], ['E', 276, 727], ['F', 8, 923],
 ['G', 277, 923], ['H', 517, 727], ['I', 9, 1108], ['J', 415, 1108]].forEach(p => txt(p[0], p[1], p[2], { fs: 23, bold: true }));

txt('Whole cell', 23, 68, { align: 'left' });
txt('V1 L2/3', 23, 85, { align: 'left' });
txt('-60mV–', 58, 146, { align: 'right', fs: 12 });
txt('10mV', 665, 53, { align: 'left', fs: 11 });
txt('2 s', 687, 77, { fs: 12 });
txt('3-5 Hz', 218, 192);
txt('Vm Osc.', 218, 209);
txt('Dilating', 70, 270, { align: 'left', fs: 14, color: CYAN });
txt('Constricting', 240, 272, { align: 'left', fs: 14, color: MAG });

txt('~', 54, 415, { fs: 14 });
txt('Prob.', 17, 437, { fs: 16, rot: true });
txt('Osc.', 101, 428, { fs: 17, color: '#2424c8' });
txt('No Osc.', 164, 472, { fs: 17, color: '#7a7a7a' });
txt('n=1', 215, 491, { fs: 14 });

txt('Osc.', 84, 557, { fs: 17, color: '#ee1c24' });
txt('No Osc.', 155, 560, { fs: 17, color: '#7a7a7a' });
txt('n=1', 224, 643, { fs: 14 });

txt('Locomotion<br>Onset', 148, 781, { fs: 14, color: '#999', rot: true, lh: 17 });
txt('Locomotion<br>Offset', 413, 781, { fs: 14, color: '#999', rot: true, lh: 17 });
txt('Dilation<br>Onset', 148, 975, { fs: 14, color: '#999', rot: true, lh: 17 });
txt('Constriction<br>Onset', 413, 972, { fs: 14, color: '#999', rot: true, lh: 17 });

txt('3-5 Hz Vm Osc.', 652, 747, { align: 'left' });
txt('Constriction onset', 652, 766, { align: 'left', color: '#b01e9c' });
txt('Locomotion offset', 652, 786, { align: 'left', color: '#1e1ed2' });
txt('Power (dB)', 553, 873, { fs: 16, rot: true });
txt('Freq. (Hz)', 709, 1080, { fs: 16 });

txt('<span style="color:' + TEAL + '">X &amp;</span> <span style="color:' + GREEN + '">Y</span> Pupil<br>Movement (pixels)', 429, 1181, { fs: 16, rot: true, lh: 19 });
txt('Backward', 495, 1221, { align: 'left', fs: 16, color: TEAL });
txt('Down', 495, 1237, { align: 'left', fs: 16, color: GREEN });

// down arrow in J
const stem = document.createElement('div');
Object.assign(stem.style, { position: 'absolute', left: '487px', top: '1214px', width: '2px', height: '24px', background: '#000' });
const head = document.createElement('div');
Object.assign(head.style, { position: 'absolute', left: '483px', top: '1236px', width: '0', height: '0',
  borderLeft: '5px solid transparent', borderRight: '5px solid transparent', borderTop: '9px solid #000' });
fig.appendChild(stem);
fig.appendChild(head);
</script>
</body>
</html>
